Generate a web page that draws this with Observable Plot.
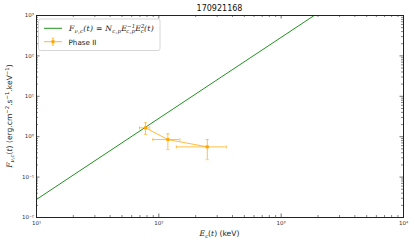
<!DOCTYPE html>
<html><head><meta charset="utf-8">
<script src="https://cdn.jsdelivr.net/npm/d3@7"></script>
<script src="https://cdn.jsdelivr.net/npm/@observablehq/plot@0.6"></script>
<style>body{margin:0;background:#fff}#wrap{width:415px;height:249px}</style>
</head><body><div id="wrap"></div>
<script>
const title = "170921168";
const energy = [77.8, 118.5, 249];
const energyLo = [69.5, 89.4, 139];
const energyHi = [84.3, 148.6, 358];
const flux = [1.66, 0.85, 0.56];
const fluxLo = [1.13, 0.48, 0.27];
const fluxHi = [2.21, 1.18, 0.85];
const modelE = [10, 1860];
const modelF = [0.028, 1000];
const xTicks = [10, 100, 1000, 10000];
const yTicks = [1e-2, 1e-1, 1, 10, 100, 1000];
const seriesName = "Phase II";

const W = 415, H = 249, mL = 36, mR = 12, mT = 15, mB = 32;
const fw = W - mL - mR, fh = H - mT - mB;
const green = "#1f931f", orange = "#ffa500";

const points = energy.map((e, i) => ({e, elo: energyLo[i], ehi: energyHi[i], f: flux[i], flo: fluxLo[i], fhi: fluxHi[i]}));
const model = modelE.map((e, i) => ({e, f: modelF[i]}));

const supMap = {"-": "⁻", "0": "⁰", "1": "¹", "2": "²", "3": "³", "4": "⁴", "5": "⁵", "6": "⁶", "7": "⁷", "8": "⁸", "9": "⁹"};
const fmt = v => "10" + String(Math.round(Math.log10(v))).replace(/./g, c => supMap[c]);

const xMinor = d3.scaleLog().domain([10, 1e4]).ticks().filter(v => !xTicks.includes(v));
const yMinor = d3.scaleLog().domain([1e-2, 1e3]).ticks().filter(v => !yTicks.some(t => Math.abs(t - v) / v < 1e-9));

const vcap = {draw(ctx, size) { const r = Math.sqrt(size / Math.PI); ctx.moveTo(0, -r); ctx.lineTo(0, r); }};
const hcap = {draw(ctx, size) { const r = Math.sqrt(size / Math.PI); ctx.moveTo(-r, 0); ctx.lineTo(r, 0); }};

const tickStroke = "#333";
const svg = Plot.plot({
  width: W, height: H,
  marginLeft: mL, marginRight: mR, marginTop: mT, marginBottom: mB,
  style: {fontFamily: "DejaVu Sans", background: "white"},
  x: {type: "log", domain: [10, 1e4], axis: null},
  y: {type: "log", domain: [1e-2, 1e3], axis: null},
  marks: [
    Plot.tickX(xMinor, {x: d => d, insetTop: fh - 2, stroke: tickStroke, strokeWidth: 0.6}),
    Plot.tickX(xMinor, {x: d => d, insetBottom: fh - 2, stroke: tickStroke, strokeWidth: 0.6}),
    Plot.tickX(xTicks, {x: d => d, insetTop: fh - 3.5, stroke: tickStroke, strokeWidth: 0.7}),
    Plot.tickX(xTicks, {x: d => d, insetBottom: fh - 3.5, stroke: tickStroke, strokeWidth: 0.7}),
    Plot.tickY(yMinor, {y: d => d, insetRight: fw - 2, stroke: tickStroke, strokeWidth: 0.6}),
    Plot.tickY(yMinor, {y: d => d, insetLeft: fw - 2, stroke: tickStroke, strokeWidth: 0.6}),
    Plot.tickY(yTicks, {y: d => d, insetRight: fw - 3.5, stroke: tickStroke, strokeWidth: 0.7}),
    Plot.tickY(yTicks, {y: d => d, insetLeft: fw - 3.5, stroke: tickStroke, strokeWidth: 0.7}),
    Plot.text(xTicks, {x: d => d, text: fmt, frameAnchor: "bottom", dy: 7, fontSize: 5.5, fill: "#333"}),
    Plot.text(yTicks, {y: d => d, text: fmt, frameAnchor: "left", dx: -2.5, textAnchor: "end", fontSize: 5.5, fill: "#333"}),
    Plot.line(model, {x: "e", y: "f", stroke: green, strokeWidth: 1, clip: true}),
    Plot.line(points, {x: "e", y: "f", stroke: orange, strokeOpacity: 0.75, strokeWidth: 1}),
    Plot.ruleY(points, {y: "f", x1: "elo", x2: "ehi", stroke: orange, strokeOpacity: 0.7, strokeWidth: 1}),
    Plot.ruleX(points, {x: "e", y1: "flo", y2: "fhi", stroke: orange, strokeOpacity: 0.7, strokeWidth: 1}),
    Plot.dot(points, {x: "elo", y: "f", symbol: vcap, r: 1.6, stroke: orange, strokeOpacity: 0.7, strokeWidth: 0.8}),
    Plot.dot(points, {x: "ehi", y: "f", symbol: vcap, r: 1.6, stroke: orange, strokeOpacity: 0.7, strokeWidth: 0.8}),
    Plot.dot(points, {x: "e", y: "flo", symbol: hcap, r: 1.6, stroke: orange, strokeOpacity: 0.7, strokeWidth: 0.8}),
    Plot.dot(points, {x: "e", y: "fhi", symbol: hcap, r: 1.6, stroke: orange, strokeOpacity: 0.7, strokeWidth: 0.8}),
    Plot.dot(points, {x: "e", y: "f", symbol: "square", r: 1.7, fill: orange, stroke: null}),
    Plot.frame({stroke: "#222", strokeWidth: 1})
  ]
});
document.getElementById("wrap").appendChild(svg);

const s = d3.select(svg);
const serif = "DejaVu Serif";
function rich(g, parts, opts) {
  const t = g.append("text").attr("font-family", "DejaVu Sans").attr("font-size", opts.size).attr("fill", "#222")
    .attr("text-anchor", opts.anchor || "start");
  if (opts.spacing) t.attr("letter-spacing", opts.spacing);
  let shift = 0, prev = null;
  for (const p of parts) {
    const target = p.sub ? opts.size * 0.3 : p.sup ? -opts.size * 0.4 : 0;
    const ts = t.append("tspan").text(p.t).attr("dy", target - shift);
    shift = target;
    if (p.it) ts.attr("font-family", serif).attr("font-style", "italic");
    if (p.sub || p.sup) ts.attr("font-size", opts.size * 0.7);
    if (p.stack && prev) ts.attr("dx", -prev.node().getComputedTextLength() - (opts.spacing || 0) * p.t.length);
    prev = ts;
  }
  return t;
}
s.append("text").attr("x", mL + fw / 2).attr("y", 11).attr("text-anchor", "middle")
  .attr("font-family", "DejaVu Sans").attr("font-size", 8).attr("fill", "#111").text(title);
rich(s.append("g").attr("transform", `translate(${mL + fw / 2},236)`), [
  {t: "E", it: true}, {t: "c", it: true, sub: true}, {t: "("}, {t: "t", it: true}, {t: ") (keV)"}
], {size: 7.6, anchor: "middle"});
rich(s.append("g").attr("transform", `translate(12,${mT + fh / 2}) rotate(-90)`), [
  {t: "F", it: true}, {t: "ν,c", it: true, sub: true}, {t: "("}, {t: "t", it: true}, {t: ") (erg.cm"},
  {t: "−2", sup: true}, {t: ".s"}, {t: "−1", sup: true}, {t: ".keV"}, {t: "−1", sup: true}, {t: ")"}
], {size: 7.6, anchor: "middle"});
const lg = s.append("g");
lg.append("rect").attr("x", 38.5).attr("y", 19).attr("width", 121.5).attr("height", 31.5).attr("rx", 2)
  .attr("fill", "white").attr("fill-opacity", 0.85).attr("stroke", "#ccc").attr("stroke-width", 0.8);
lg.append("line").attr("x1", 44).attr("x2", 62).attr("y1", 28.3).attr("y2", 28.3).attr("stroke", green).attr("stroke-width", 1);
rich(lg.append("g").attr("transform", "translate(69,31)"), [
  {t: "F", it: true}, {t: "ν,c", it: true, sub: true}, {t: "(", it: true}, {t: "t", it: true}, {t: ") = ", it: true},
  {t: "N", it: true}, {t: "c,p", it: true, sub: true}, {t: "E", it: true}, {t: "−1", it: true, sup: true},
  {t: "c,p", it: true, sub: true, stack: true}, {t: "E", it: true}, {t: "2", it: true, sup: true}, {t: "c", it: true, sub: true, stack: true},
  {t: "(t)", it: true}
], {size: 7.7, spacing: 0.25});
lg.append("line").attr("x1", 44).attr("x2", 62).attr("y1", 41.7).attr("y2", 41.7).attr("stroke", orange).attr("stroke-opacity", 0.8);
lg.append("line").attr("x1", 53).attr("x2", 53).attr("y1", 38.2).attr("y2", 45.2).attr("stroke", orange).attr("stroke-opacity", 0.8);
lg.append("line").attr("x1", 51.8).attr("x2", 54.2).attr("y1", 38.2).attr("y2", 38.2).attr("stroke", orange).attr("stroke-opacity", 0.8).attr("stroke-width", 0.7);
lg.append("line").attr("x1", 51.8).attr("x2", 54.2).attr("y1", 45.2).attr("y2", 45.2).attr("stroke", orange).attr("stroke-opacity", 0.8).attr("stroke-width", 0.7);
lg.append("rect").attr("x", 51.5).attr("y", 40.2).attr("width", 3).attr("height", 3).attr("fill", orange);
lg.append("text").attr("x", 68.5).attr("y", 44.5).attr("text-anchor", "start").attr("font-family", "DejaVu Sans")
  .attr("font-size", 7.2).attr("fill", "#222").text(seriesName);
</script></body></html>
